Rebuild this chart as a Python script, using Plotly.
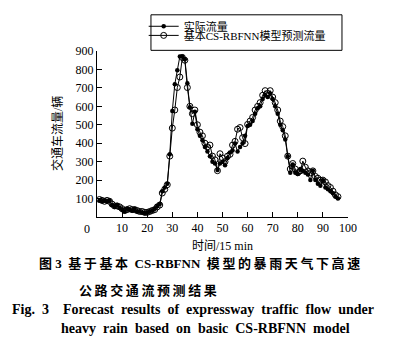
import plotly.graph_objects as go

# Time index (15-min intervals)
time_idx = list(range(1, 97))

# Observed traffic flow (vehicles per interval)
actual_flow = [
    90, 85, 88, 85, 90, 65, 55, 65, 50, 40,
    30, 45, 40, 35, 45, 30, 30, 25, 20, 25,
    30, 35, 45, 60, 70, 140, 160, 180, 340, 575,
    720, 795, 870, 870, 855, 725, 595, 505, 570, 476,
    440, 416, 380, 355, 330, 300, 290, 255, 290, 300,
    280, 320, 350, 360, 398, 355, 380, 400, 440, 494,
    500, 520, 560, 590, 600, 640, 660, 650, 670, 640,
    600, 560, 500, 470, 420, 329, 240, 285, 240, 233,
    260, 250, 240, 230, 200, 251, 200, 180, 170, 199,
    160, 150, 140, 129, 110, 100,
]

# Basic CS-RBFNN model prediction
predicted_flow = [
    95, 90, 85, 90, 85, 70, 60, 60, 55, 45,
    35, 40, 45, 40, 40, 35, 30, 30, 25, 25,
    30, 35, 40, 55, 65, 130, 150, 175, 330, 482,
    580, 702, 759, 865, 850, 702, 600, 560, 580, 500,
    460, 440, 400, 380, 390, 330, 310, 251, 343, 320,
    300, 330, 340, 390, 410, 476, 485, 430, 398, 502,
    520, 540, 580, 600, 620, 660, 685, 670, 685, 650,
    620, 580, 520, 490, 440, 330, 260, 290, 260, 240,
    250, 303, 270, 250, 240, 250, 220, 210, 200, 200,
    190, 170, 160, 140, 120, 110,
]

x_ticks = list(range(10, 101, 10))
y_ticks = list(range(100, 901, 100))

SERIF = "Liberation Serif, Times New Roman, serif"
CJK = "Liberation Serif, Noto Sans CJK SC, serif"
TS = "\u2009"  # thin space used to open up the caption lettering
NB = "\u00a0"


def spaced(s):
    """Put a thin space between consecutive CJK characters."""
    out = []
    for i, ch in enumerate(s):
        out.append(ch)
        if i + 1 < len(s) and ord(ch) > 0x2E80 and ord(s[i + 1]) > 0x2E80:
            out.append(TS)
    return "".join(out)


def wide(s):
    """Widen the gaps between words."""
    return s.replace(" ", NB + " ")


fig = go.Figure()
fig.add_trace(go.Scatter(
    x=time_idx, y=actual_flow, mode="lines+markers", name="实际流量",
    line=dict(color="black", width=1),
    marker=dict(symbol="circle", size=4.5, color="black"),
    legend="legend",
))
fig.add_trace(go.Scatter(
    x=time_idx, y=predicted_flow, mode="lines+markers", name="基本CS-RBFNN模型预测流量",
    line=dict(color="black", width=1),
    marker=dict(symbol="circle-open", size=6, color="black", line=dict(width=1)),
    legend="legend2",
))

legend_style = dict(
    x=0.186, xanchor="left", yanchor="middle",
    bgcolor="rgba(0,0,0,0)", borderwidth=0,
    font=dict(family=CJK, size=11), itemwidth=30,
)

fig.update_layout(
    width=401, height=348,
    margin=dict(l=97, r=53, t=44, b=131),
    paper_bgcolor="white", plot_bgcolor="white",
    font=dict(family=SERIF, size=12, color="black"),
    showlegend=True,
    legend=dict(y=1.149, **legend_style),
    legend2=dict(y=1.094, **legend_style),
    xaxis=dict(
        range=[0, 100], tickvals=x_ticks, ticks="inside", ticklen=5,
        tickcolor="black", showline=True, linecolor="black", linewidth=1,
        showgrid=False, zeroline=False, tickfont=dict(size=12),
    ),
    yaxis=dict(
        range=[0, 900], tickvals=y_ticks, ticks="inside", ticklen=5,
        tickcolor="black", showline=True, linecolor="black", linewidth=1,
        showgrid=False, zeroline=False, tickfont=dict(size=12),
    ),
)

# frame around the two legend entries
fig.add_shape(type="rect", xref="paper", yref="paper",
              x0=0.215, x1=0.976, y0=1.004, y1=1.218,
              line=dict(color="black", width=1), layer="above")

annotations = [
    # origin label on the x axis
    dict(text="0", x=0, y=0, xref="x", yref="y", xshift=-10, yshift=-12,
         showarrow=False, font=dict(size=12)),
    # axis titles
    dict(text="交通车流量/辆", x=-0.159, y=0.5, xref="paper", yref="paper",
         xanchor="center", yanchor="middle",
         textangle=-90, showarrow=False, font=dict(family=CJK, size=12)),
    dict(text="时间/15 min", x=0.5, y=-0.172, xref="paper", yref="paper",
         xanchor="center", yanchor="middle",
         showarrow=False, font=dict(family=CJK, size=12)),
    # figure caption
    dict(text="<b>" + spaced("图 3" + NB + NB + "基于基本" + NB + " CS-RBFNN " + NB
                             + "模型的暴雨天气下高速") + "</b>",
         x=-0.239, y=-0.281, xref="paper", yref="paper",
         xanchor="left", yanchor="middle",
         showarrow=False, font=dict(family=CJK, size=13)),
    dict(text="<b>" + spaced("公路交通流预测结果") + "</b>",
         x=-0.08, y=-0.44, xref="paper", yref="paper",
         xanchor="left", yanchor="middle",
         showarrow=False, font=dict(family=CJK, size=13)),
    dict(text="<b>" + wide("Fig. 3" + NB + NB + " Forecast results of expressway traffic flow under") + "</b>",
         x=-0.347, y=-0.559, xref="paper", yref="paper",
         xanchor="left", yanchor="middle",
         showarrow=False, font=dict(family=SERIF, size=14)),
    dict(text="<b>" + wide("heavy rain based on basic CS-RBFNN model") + "</b>",
         x=-0.151, y=-0.672, xref="paper", yref="paper",
         xanchor="left", yanchor="middle",
         showarrow=False, font=dict(family=SERIF, size=14)),
]
fig.update_layout(annotations=annotations)

fig.write_html("out.html")
